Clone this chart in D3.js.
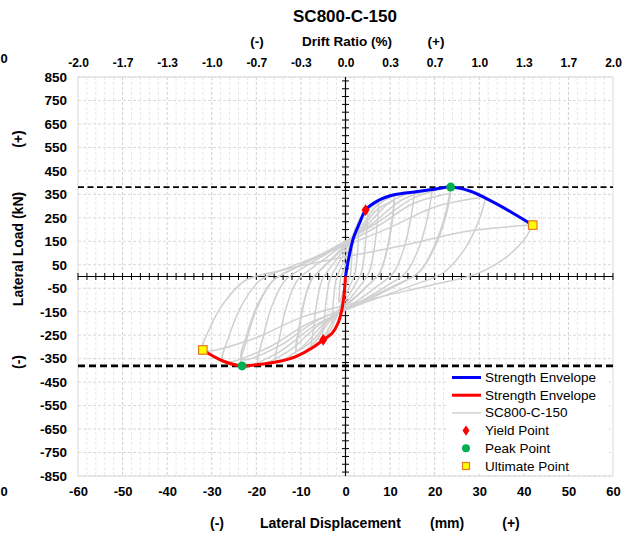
<!DOCTYPE html>
<html>
<head>
<meta charset="utf-8">
<script src="https://cdn.jsdelivr.net/npm/d3@7/dist/d3.min.js"></script>
<style>
  html, body { margin: 0; padding: 0; background: #fff; }
  svg { display: block; font-family: "Liberation Sans", Arial, sans-serif; }
  .tick text { font-weight: bold; fill: #000; }
</style>
</head>
<body>
<svg id="chart" width="633" height="536"></svg>
<script>
  // displacement (mm) / load (kN)
  var xTicks = [-60, -50, -40, -30, -20, -10, 0, 10, 20, 30, 40, 50, 60];
  var driftLabels = ['-2.0', '-1.7', '-1.3', '-1.0', '-0.7', '-0.3', '0.0', '0.3', '0.7', '1.0', '1.3', '1.7', '2.0'];
  var yTicks = [-850, -750, -650, -550, -450, -350, -250, -150, -50, 50, 150, 250, 350, 450, 550, 650, 750, 850];

  var envelopePos = [[0, 0], [0.8, 85], [1.8, 165], [3.1, 225], [4.5, 283], [7.2, 322], [10.9, 348], [16.2, 362],
    [20, 372], [23.6, 381], [28.2, 362], [32.6, 322], [37.1, 275], [42, 219]];
  var envelopeNeg = [[0, 0], [-0.3, -70], [-0.8, -140], [-1.7, -200], [-3, -242], [-5, -270], [-7.5, -305],
    [-11, -340], [-15, -362], [-20, -376], [-23.2, -381], [-27.5, -360], [-32, -313]];

  var yieldPoints = [[4.5, 283], [-5, -270]];
  var peakPoints = [[23.6, 381], [-23.2, -381]];
  var ultimatePoints = [[42, 219], [-32, -313]];
  var peakLoads = [381, -381];

  var cycles = [
    [[0, 0], [0.7, 65], [1.5, 120], [1.4, 84], [1.3, 42], [1.05, 6], [0.7, -13], [0.2, -33], [-0.45, -60], [-1.0, -94], [-1.5, -110],
      [-1.4, -77], [-1.3, -38], [-1.05, -5], [-0.7, 14], [-0.2, 36], [0.45, 72], [1.0, 106], [1.5, 120]],
    [[3, 210], [2.85, 147], [2.55, 74], [2.1, 10], [1.35, -24], [0.45, -60], [-0.9, -110], [-1.95, -170], [-3, -200],
      [-2.85, -140], [-2.55, -70], [-2.1, -10], [-1.35, 25], [-0.45, 63], [0.9, 126], [1.95, 185], [3, 210]],
    [[5, 280], [4.75, 196], [4.25, 98], [3.5, 14], [2.25, -31], [0.75, -79], [-1.5, -144], [-3.25, -223], [-5, -262],
      [-4.75, -183], [-4.25, -92], [-3.5, -13], [-2.25, 34], [-0.75, 84], [1.5, 168], [3.25, 246], [5, 280]],
    [[7.5, 318], [7.1, 223], [6.4, 111], [5.25, 16], [3.4, -37], [1.1, -92], [-2.25, -168], [-4.9, -259], [-7.5, -305],
      [-7.1, -214], [-6.4, -107], [-5.25, -15], [-3.4, 38], [-1.1, 95], [2.25, 191], [4.9, 280], [7.5, 318]],
    [[11, 345], [10.45, 242], [9.35, 121], [7.7, 17], [4.95, -40], [1.65, -100], [-3.3, -184], [-7.15, -285], [-11, -335],
      [-10.45, -235], [-9.35, -117], [-7.7, -17], [-4.95, 41], [-1.65, 104], [3.3, 207], [7.15, 304], [11, 345]],
    [[11, 325], [10.45, 228], [9.35, 114], [7.7, 16], [4.95, -38], [1.65, -95], [-3.3, -173], [-7.15, -268], [-11, -315],
      [-10.45, -220], [-9.35, -110], [-7.7, -16], [-4.95, 39], [-1.65, 98], [3.3, 195], [7.15, 286], [11, 325]],
    [[15.5, 362], [14.7, 253], [13.2, 127], [10.85, 18], [7, -43], [2.3, -108], [-4.65, -198], [-10.1, -306], [-15.5, -360],
      [-14.7, -252], [-13.2, -126], [-10.85, -18], [-7, 43], [-2.3, 109], [4.65, 217], [10.1, 319], [15.5, 362]],
    [[19.5, 372], [18.5, 260], [16.6, 130], [13.65, 19], [8.8, -45], [2.9, -112], [-5.85, -205], [-12.7, -317], [-19.5, -373],
      [-18.5, -261], [-16.6, -131], [-13.65, -19], [-8.8, 45], [-2.9, 112], [5.85, 223], [12.7, 327], [19.5, 372]],
    [[23.6, 381], [22.4, 267], [20, 133], [16.5, 19], [10.6, -46], [3.5, -114], [-7, -210], [-15.1, -324], [-23.3, -381],
      [-22.1, -267], [-19.8, -133], [-16.3, -19], [-10.5, 46], [-3.5, 114], [7.1, 229], [15.3, 335], [23.6, 381]],
    [[23.6, 355], [22.4, 249], [20, 124], [16.5, 18], [10.6, -42], [3.5, -106], [-7, -194], [-15.1, -299], [-23.3, -352],
      [-22.1, -246], [-19.8, -123], [-16.3, -18], [-10.5, 43], [-3.5, 107], [7.1, 213], [15.3, 312], [23.6, 355]],
    [[31.5, 340], [29.9, 238], [26.8, 119], [22, 17], [14.2, -43], [4.7, -109], [-8.25, -199], [-17.9, -308], [-27.5, -362],
      [-26.1, -253], [-23.4, -127], [-19.25, -18], [-12.4, 41], [-4.1, 102], [9.45, 204], [20.5, 299], [31.5, 340]],
    [[42, 219], [39.9, 153], [35.7, 77], [29.4, 11], [18.9, -38], [6.3, -94], [-9.6, -172], [-20.8, -266], [-32, -313],
      [-30.4, -219], [-27.2, -110], [-22.4, -16], [-14.4, 26], [-4.8, 66], [12.6, 131], [27.3, 193], [42, 219]]
  ];

  var legendItems = [
    { label: 'Strength Envelope', type: 'line', color: '#0000ff', width: 3 },
    { label: 'Strength Envelope', type: 'line', color: '#ff0000', width: 3 },
    { label: 'SC800-C-150', type: 'line', color: '#d0d0d0', width: 1.5 },
    { label: 'Yield Point', type: 'diamond' },
    { label: 'Peak Point', type: 'circle' },
    { label: 'Ultimate Point', type: 'square' }
  ];

(function() {
  var plotLeft = 78, plotRight = 613, plotTop = 77, plotBottom = 476;

  var svg = d3.select('#chart');
  var x = d3.scaleLinear().domain([-60, 60]).range([plotLeft, plotRight]);
  var y = d3.scaleLinear().domain([-850, 850]).range([plotBottom, plotTop]);

  // grid
  var grid = svg.append('g').attr('class', 'grid');
  grid.selectAll('line.minor-x')
    .data(d3.range(-58, 60, 2).filter(function(d) { return d % 10 !== 0; }))
    .enter().append('line')
    .attr('x1', function(d) { return x(d); }).attr('x2', function(d) { return x(d); })
    .attr('y1', plotTop).attr('y2', plotBottom)
    .attr('stroke', '#e8e8e8').attr('stroke-dasharray', '3,2');
  grid.selectAll('line.major-x')
    .data(xTicks.slice(1, -1))
    .enter().append('line')
    .attr('x1', function(d) { return x(d); }).attr('x2', function(d) { return x(d); })
    .attr('y1', plotTop).attr('y2', plotBottom)
    .attr('stroke', '#d0d0d0').attr('stroke-dasharray', '3,2');
  grid.selectAll('line.major-y')
    .data(yTicks)
    .enter().append('line')
    .attr('x1', plotLeft).attr('x2', plotRight)
    .attr('y1', function(d) { return y(d); }).attr('y2', function(d) { return y(d); })
    .attr('stroke', '#d9d9d9').attr('stroke-dasharray', '3,2');
  svg.append('rect')
    .attr('x', plotLeft).attr('y', plotTop).attr('width', plotRight - plotLeft).attr('height', plotBottom - plotTop)
    .attr('fill', 'none').attr('stroke', '#d9d9d9');

  // center axes with ticks
  var center = svg.append('g').attr('class', 'center-axes');
  center.append('line')
    .attr('x1', plotLeft).attr('x2', plotRight).attr('y1', y(0)).attr('y2', y(0))
    .attr('stroke', '#000').attr('stroke-width', 1.2);
  center.append('line')
    .attr('x1', x(0)).attr('x2', x(0)).attr('y1', plotTop).attr('y2', plotBottom)
    .attr('stroke', '#000').attr('stroke-width', 1.2);
  center.selectAll('line.xt')
    .data(d3.range(-60, 61, 2))
    .enter().append('line')
    .attr('x1', function(d) { return x(d); }).attr('x2', function(d) { return x(d); })
    .attr('y1', y(0) - 3.5).attr('y2', y(0) + 3.5)
    .attr('stroke', '#000');
  center.selectAll('line.yt')
    .data(d3.range(-25, 26).map(function(k) { return k * 100 / 3; }))
    .enter().append('line')
    .attr('x1', x(0) - 3.5).attr('x2', x(0) + 3.5)
    .attr('y1', function(d) { return y(d); }).attr('y2', function(d) { return y(d); })
    .attr('stroke', '#000');

  // hysteresis loops
  var line = d3.line()
    .x(function(d) { return x(d[0]); })
    .y(function(d) { return y(d[1]); })
    .curve(d3.curveCatmullRom.alpha(0.5));

  svg.append('g').attr('class', 'cycles')
    .selectAll('path').data(cycles)
    .enter().append('path')
    .attr('d', line)
    .attr('fill', 'none').attr('stroke', '#d0d0d0').attr('stroke-width', 1.5);

  // peak load lines
  svg.selectAll('line.peak-load')
    .data(peakLoads)
    .enter().append('line')
    .attr('class', 'peak-load')
    .attr('x1', plotLeft).attr('x2', plotRight)
    .attr('y1', function(d) { return y(d); }).attr('y2', function(d) { return y(d); })
    .attr('stroke', '#000')
    .attr('stroke-width', function(d, i) { return i === 0 ? 1.8 : 2.6; })
    .attr('stroke-dasharray', function(d, i) { return i === 0 ? '6,3.5' : '7,4'; });

  // envelopes
  svg.append('path').datum(envelopePos)
    .attr('d', line).attr('fill', 'none').attr('stroke', '#0000ff').attr('stroke-width', 3);
  svg.append('path').datum(envelopeNeg)
    .attr('d', line).attr('fill', 'none').attr('stroke', '#ff0000').attr('stroke-width', 3);

  // markers
  function drawMarker(g, type, cx, cy, small) {
    if (type === 'diamond') {
      g.append('path')
        .attr('d', d3.symbol().type(d3.symbolDiamond).size(small ? 30 : 40)())
        .attr('transform', 'translate(' + cx + ',' + cy + ') scale(1.2,1)')
        .attr('fill', '#ff0000');
    } else if (type === 'circle') {
      g.append('circle').attr('cx', cx).attr('cy', cy).attr('r', small ? 4 : 4.5).attr('fill', '#00b050');
    } else if (type === 'square') {
      var s = small ? 7 : 8.5;
      g.append('rect')
        .attr('x', cx - s / 2).attr('y', cy - s / 2).attr('width', s).attr('height', s)
        .attr('fill', '#ffff00').attr('stroke', '#e87722').attr('stroke-width', 1.2);
    }
  }
  var marks = svg.append('g').attr('class', 'markers');
  yieldPoints.forEach(function(d) { drawMarker(marks, 'diamond', x(d[0]), y(d[1])); });
  peakPoints.forEach(function(d) { drawMarker(marks, 'circle', x(d[0]), y(d[1])); });
  ultimatePoints.forEach(function(d) { drawMarker(marks, 'square', x(d[0]), y(d[1])); });

  // axes labels
  var bottomAxis = d3.axisBottom(x).tickValues(xTicks).tickSize(0).tickPadding(11)
    .tickFormat(function(d) { return String(d); });
  svg.append('g').attr('transform', 'translate(0,' + plotBottom + ')')
    .call(bottomAxis)
    .call(function(g) { g.select('.domain').remove(); })
    .selectAll('text').attr('font-size', 13).attr('font-family', '"Liberation Sans", Arial, sans-serif');

  var topAxis = d3.axisTop(x).tickValues(xTicks).tickSize(0).tickPadding(10)
    .tickFormat(function(d, i) { return driftLabels[i]; });
  svg.append('g').attr('transform', 'translate(0,' + plotTop + ')')
    .call(topAxis)
    .call(function(g) { g.select('.domain').remove(); })
    .selectAll('text').attr('font-size', 12).attr('font-family', '"Liberation Sans", Arial, sans-serif');

  var leftAxis = d3.axisLeft(y).tickValues(yTicks).tickSize(0).tickPadding(11)
    .tickFormat(function(d) { return String(d); });
  svg.append('g').attr('transform', 'translate(' + plotLeft + ',0)')
    .call(leftAxis)
    .call(function(g) { g.select('.domain').remove(); })
    .selectAll('text').attr('font-size', 13.5).attr('font-family', '"Liberation Sans", Arial, sans-serif');

  // titles
  function label(txt, tx, ty, size, anchor, rotate) {
    var t = svg.append('text')
      .attr('x', tx).attr('y', ty)
      .attr('font-size', size).attr('font-weight', 'bold')
      .attr('text-anchor', anchor || 'middle')
      .attr('dominant-baseline', 'central')
      .text(txt);
    if (rotate) t.attr('transform', 'rotate(-90,' + tx + ',' + ty + ')');
    return t;
  }
  label('SC800-C-150', 345, 16, 17);
  label('(-)', 257, 41, 13.5);
  label('Drift Ratio (%)', 347, 41, 13.5);
  label('(+)', 436, 41, 13.5);
  label('(-)', 217, 523, 14);
  label('Lateral Displacement', 260, 523, 14, 'start');
  label('(mm)', 430, 523, 14, 'start');
  label('(+)', 511, 523, 14);
  label('Lateral Load  (kN)', 18, 249, 14, 'middle', true);
  label('(+)', 18, 139, 14, 'middle', true);
  label('(-)', 18, 362, 14, 'middle', true);
  label('0', 4, 58, 13);
  label('0', 4, 491, 13);

  // legend
  var legend = svg.append('g').attr('class', 'legend');
  legend.append('rect')
    .attr('x', 447).attr('y', 368).attr('width', 162).attr('height', 106)
    .attr('fill', '#fff');
  var rowY = d3.scalePoint().domain(d3.range(legendItems.length)).range([377.5, 466]);
  legendItems.forEach(function(item, i) {
    var cy = rowY(i);
    if (item.type === 'line') {
      legend.append('line')
        .attr('x1', 452).attr('x2', 481).attr('y1', cy).attr('y2', cy)
        .attr('stroke', item.color).attr('stroke-width', item.width);
    } else {
      drawMarker(legend, item.type, 466, cy, true);
    }
    legend.append('text')
      .attr('x', 485).attr('y', cy)
      .attr('dominant-baseline', 'central')
      .attr('font-size', 13.5)
      .text(item.label);
  });
})();
</script>
</body>
</html>
